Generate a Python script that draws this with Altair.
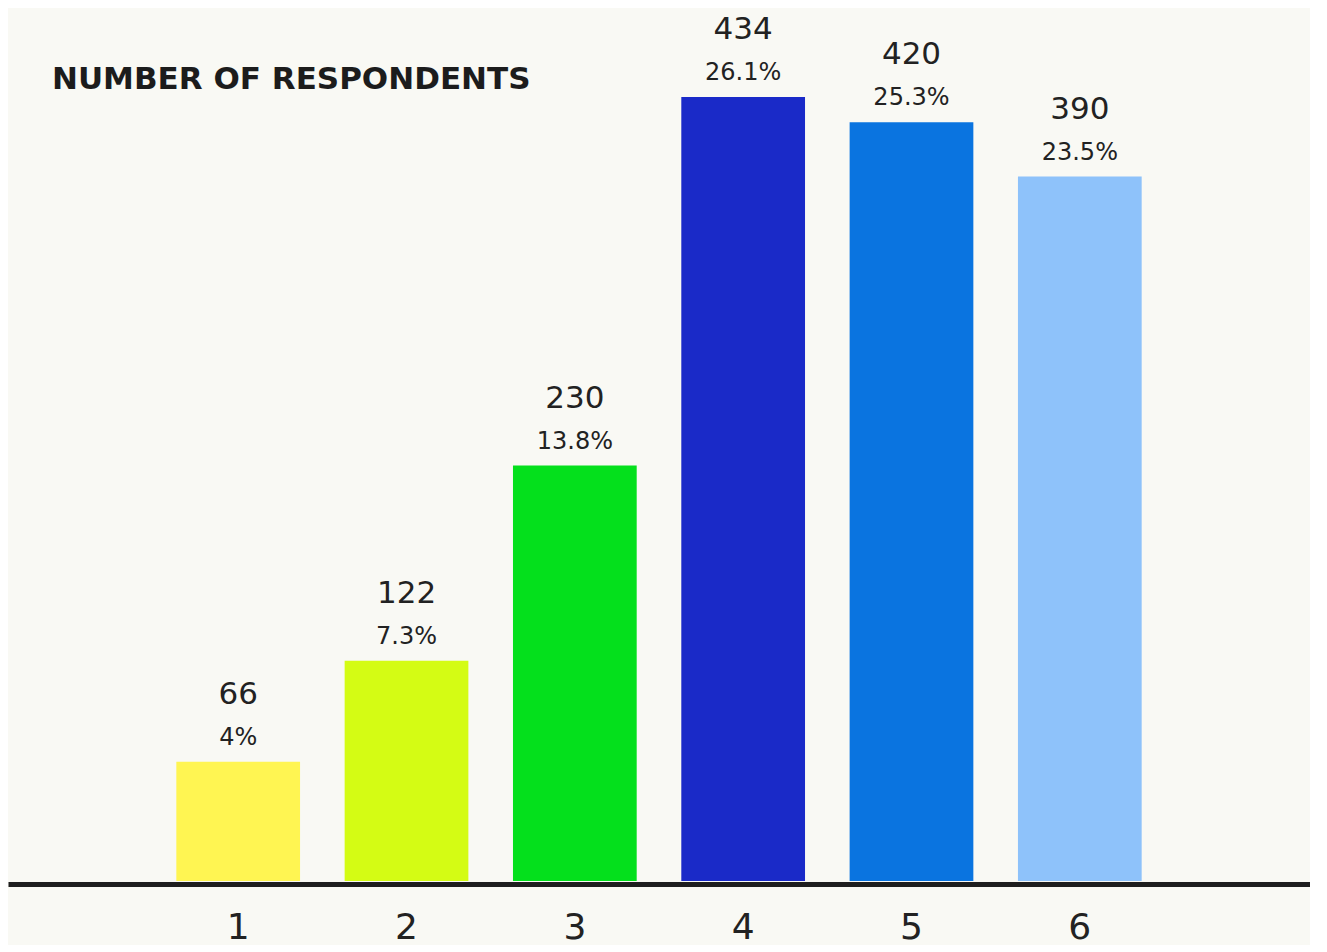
import altair as alt
import pandas as pd

categories = ["1", "2", "3", "4", "5", "6"]
counts = [66, 122, 230, 434, 420, 390]
percents = ["4%", "7.3%", "13.8%", "26.1%", "25.3%", "23.5%"]
colors = ["#fff552", "#d4fc14", "#04e01c", "#1a2ac8", "#0a74e0", "#8ec2fa"]
title_text = "NUMBER OF RESPONDENTS"

df = pd.DataFrame({"cat": categories, "count": counts, "pct": percents, "color": colors})

FONT = "DejaVu Sans"
TXT = "#222222"

x = alt.X("cat:N", sort=categories, title=None,
          scale=alt.Scale(paddingInner=0.265, paddingOuter=1),
          axis=alt.Axis(labelAngle=0, ticks=False, domainColor="#1e1e1e", domainWidth=5,
                        labelFontSize=36, labelFont=FONT, labelColor=TXT, labelPadding=26,
                        offset=3, grid=False))
y = alt.Y("count:Q", title=None, scale=alt.Scale(domain=[0, 483.3], nice=False),
          axis=None)

base = alt.Chart(df)

bars = base.mark_bar(strokeWidth=0).encode(x=x, y=y, color=alt.Color("color:N", scale=None))

count_lbl = base.mark_text(font=FONT, fontSize=31, color=TXT, baseline="alphabetic", dy=-58).encode(
    x=x, y=y, text="count:Q")
pct_lbl = base.mark_text(font=FONT, fontSize=24, color=TXT, baseline="alphabetic", dy=-17).encode(
    x=x, y=y, text="pct:N")

title = alt.Chart(pd.DataFrame({"t": [title_text]})).mark_text(
    font=FONT, fontSize=31, fontWeight="bold", color="#1c1c1c", align="left", baseline="alphabetic"
).encode(x=alt.value(44), y=alt.value(81), text="t:N")

chart = alt.layer(bars, count_lbl, pct_lbl, title).properties(
    width=1302, height=873,
    background="#f9f9f4",
    padding={"left": 0, "top": 0, "right": 0, "bottom": 0},
).configure_view(stroke=None)

chart.save("out.html", embed_options={"renderer": "svg", "actions": False})
